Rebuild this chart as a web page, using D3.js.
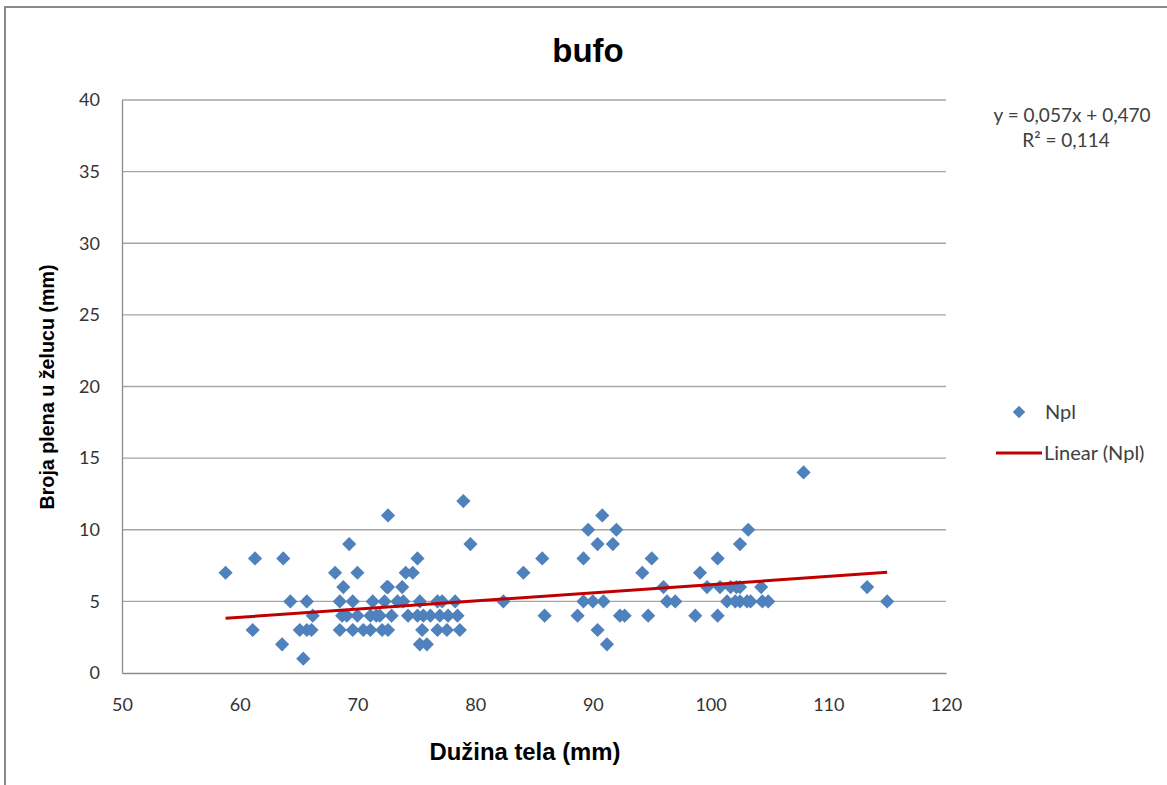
<!DOCTYPE html>
<html>
<head>
<meta charset="utf-8">
<script src="https://cdn.jsdelivr.net/npm/d3@7"></script>
<style>
    body { margin: 0; background: #fff; }
    svg { display: block; }
</style>
</head>
<body>
<svg id="chart" width="1167" height="785"></svg>
<script>
// Npl values grouped by prey count (y); each list holds body lengths (x)
const yValues = [1, 2, 3, 4, 5, 6, 7, 8, 9, 10, 11, 12, 14]
const xByY = [
    [65.4],
    [63.6, 75.3, 75.9, 91.2],
    [61.1, 65.1, 65.7, 66.1, 68.5, 69.6, 70.5, 71.1, 72.1, 72.6, 75.5, 76.8, 77.6, 78.7, 90.4],
    [66.2, 68.7, 69.1, 70.0, 71.1, 71.6, 71.9, 72.9, 74.3, 75.1, 75.6, 76.2, 77.0, 77.7, 78.5, 85.9, 88.7, 92.3, 92.7, 94.7, 98.7, 100.6],
    [64.3, 65.7, 68.5, 69.6, 71.3, 72.3, 73.4, 73.9, 75.3, 76.8, 77.2, 78.3, 82.4, 89.2, 90.0, 90.9, 96.3, 97.0, 101.4, 102.1, 102.5, 103.1, 103.4, 104.4, 104.9, 115.0],
    [68.8, 72.5, 72.6, 73.8, 96.0, 99.7, 100.8, 101.7, 102.2, 102.5, 104.3, 113.3],
    [58.8, 68.1, 70.0, 74.1, 74.7, 84.1, 94.2, 99.1],
    [61.3, 63.7, 75.1, 85.7, 89.2, 95.0, 100.6],
    [69.3, 79.6, 90.4, 91.7, 102.5],
    [89.6, 92.0, 103.2],
    [72.6, 90.8],
    [79.0],
    [107.9]
]
const xTicks = [50, 60, 70, 80, 90, 100, 110, 120]
const yTicks = [0, 5, 10, 15, 20, 25, 30, 35, 40]
const trendCoef = [0.057, 0.470]   // slope, intercept
const legendLabels = ["Npl", "Linear (Npl)"]

let points = []
yValues.forEach((v, i) => {
    xByY[i].forEach((u) => { points.push({x: u, y: v}) })
})

const svg = d3.select("#chart")
const plotL = 122, plotR = 946, plotT = 100, plotB = 673
const x = d3.scaleLinear().domain([50, 120]).range([plotL, plotR])
const y = d3.scaleLinear().domain([0, 40]).range([plotB, plotT])

// outer chart border
svg.append("path")
    .attr("d", "M5,785 L5,7 L1167,7")
    .attr("fill", "none")
    .attr("stroke", "#8a8a8a")
    .attr("stroke-width", 2)

// gridlines
svg.append("g")
    .selectAll("line")
    .data(yTicks.filter((d) => d > 0))
    .enter()
    .append("line")
    .attr("x1", plotL)
    .attr("x2", plotR)
    .attr("y1", (d) => y(d))
    .attr("y2", (d) => y(d))
    .attr("stroke", "#a6a6a6")
    .attr("stroke-width", 1.3)

// axes
const yAxis = svg.append("g")
    .attr("transform", "translate(" + plotL + ",0)")
    .call(d3.axisLeft(y).tickValues(yTicks).tickSize(0).tickPadding(22))
const xAxis = svg.append("g")
    .attr("transform", "translate(0," + plotB + ")")
    .call(d3.axisBottom(x).tickValues(xTicks).tickSize(0).tickPadding(25))
;[yAxis, xAxis].forEach((ax) => {
    ax.select(".domain").attr("stroke", "#8c8c8c").attr("stroke-width", 1.3)
    ax.selectAll("text")
        .style("font-family", "Lato, 'Open Sans', sans-serif")
        .style("font-size", "18px")
        .attr("fill", "#333")
})

// points
const trendX = d3.extent(points, (d) => d.x)
const diamond = d3.symbol().type(d3.symbolDiamond2).size(128)
svg.append("g")
    .selectAll("path")
    .data(points)
    .enter()
    .append("path")
    .attr("d", diamond)
    .attr("transform", (d) => "translate(" + x(d.x) + "," + y(d.y) + ")")
    .attr("fill", "#4f81bd")

// trend line sits over the markers
svg.append("line")
    .attr("x1", x(trendX[0]))
    .attr("y1", y(trendCoef[0] * trendX[0] + trendCoef[1]))
    .attr("x2", x(trendX[1]))
    .attr("y2", y(trendCoef[0] * trendX[1] + trendCoef[1]))
    .attr("stroke", "#c00000")
    .attr("stroke-width", 3)

// titles
svg.append("text")
    .attr("x", 588).attr("y", 62)
    .attr("text-anchor", "middle")
    .style("font-family", "'Liberation Sans', Arial, sans-serif")
    .style("font-weight", "bold")
    .style("font-size", "33px")
    .text("bufo")
svg.append("text")
    .attr("transform", "translate(54,387) rotate(-90)")
    .attr("text-anchor", "middle")
    .attr("textLength", 245)
    .attr("lengthAdjust", "spacingAndGlyphs")
    .style("font-family", "'Liberation Sans', Arial, sans-serif")
    .style("font-weight", "bold")
    .style("font-size", "20px")
    .text("Broja plena u želucu (mm)")
svg.append("text")
    .attr("x", 525).attr("y", 760)
    .attr("text-anchor", "middle")
    .attr("textLength", 191)
    .attr("lengthAdjust", "spacingAndGlyphs")
    .style("font-family", "'Liberation Sans', Arial, sans-serif")
    .style("font-weight", "bold")
    .style("font-size", "23px")
    .text("Dužina tela (mm)")

// equation
const eq = svg.append("g")
    .style("font-family", "Lato, 'Open Sans', sans-serif")
    .style("font-size", "19px")
    .attr("fill", "#404040")
    .attr("text-anchor", "middle")
eq.append("text").attr("x", 1072).attr("y", 122)
    .text("y = " + trendCoef[0].toFixed(3).replace(".", ",") + "x + " + trendCoef[1].toFixed(3).replace(".", ","))
eq.append("text").attr("x", 1066).attr("y", 147)
    .text("R² = 0,114")

// legend
const lg = svg.append("g")
    .style("font-family", "Lato, 'Open Sans', sans-serif")
    .style("font-size", "20px")
    .attr("fill", "#404040")
lg.append("path")
    .attr("d", d3.symbol().type(d3.symbolDiamond2).size(100))
    .attr("transform", "translate(1019,412)")
    .attr("fill", "#4f81bd")
lg.append("text").attr("x", 1045).attr("y", 419).text(legendLabels[0])
lg.append("line")
    .attr("x1", 996).attr("x2", 1042)
    .attr("y1", 453).attr("y2", 453)
    .attr("stroke", "#c00000")
    .attr("stroke-width", 3)
lg.append("text").attr("x", 1044).attr("y", 460).text(legendLabels[1])
</script>
</body>
</html>
